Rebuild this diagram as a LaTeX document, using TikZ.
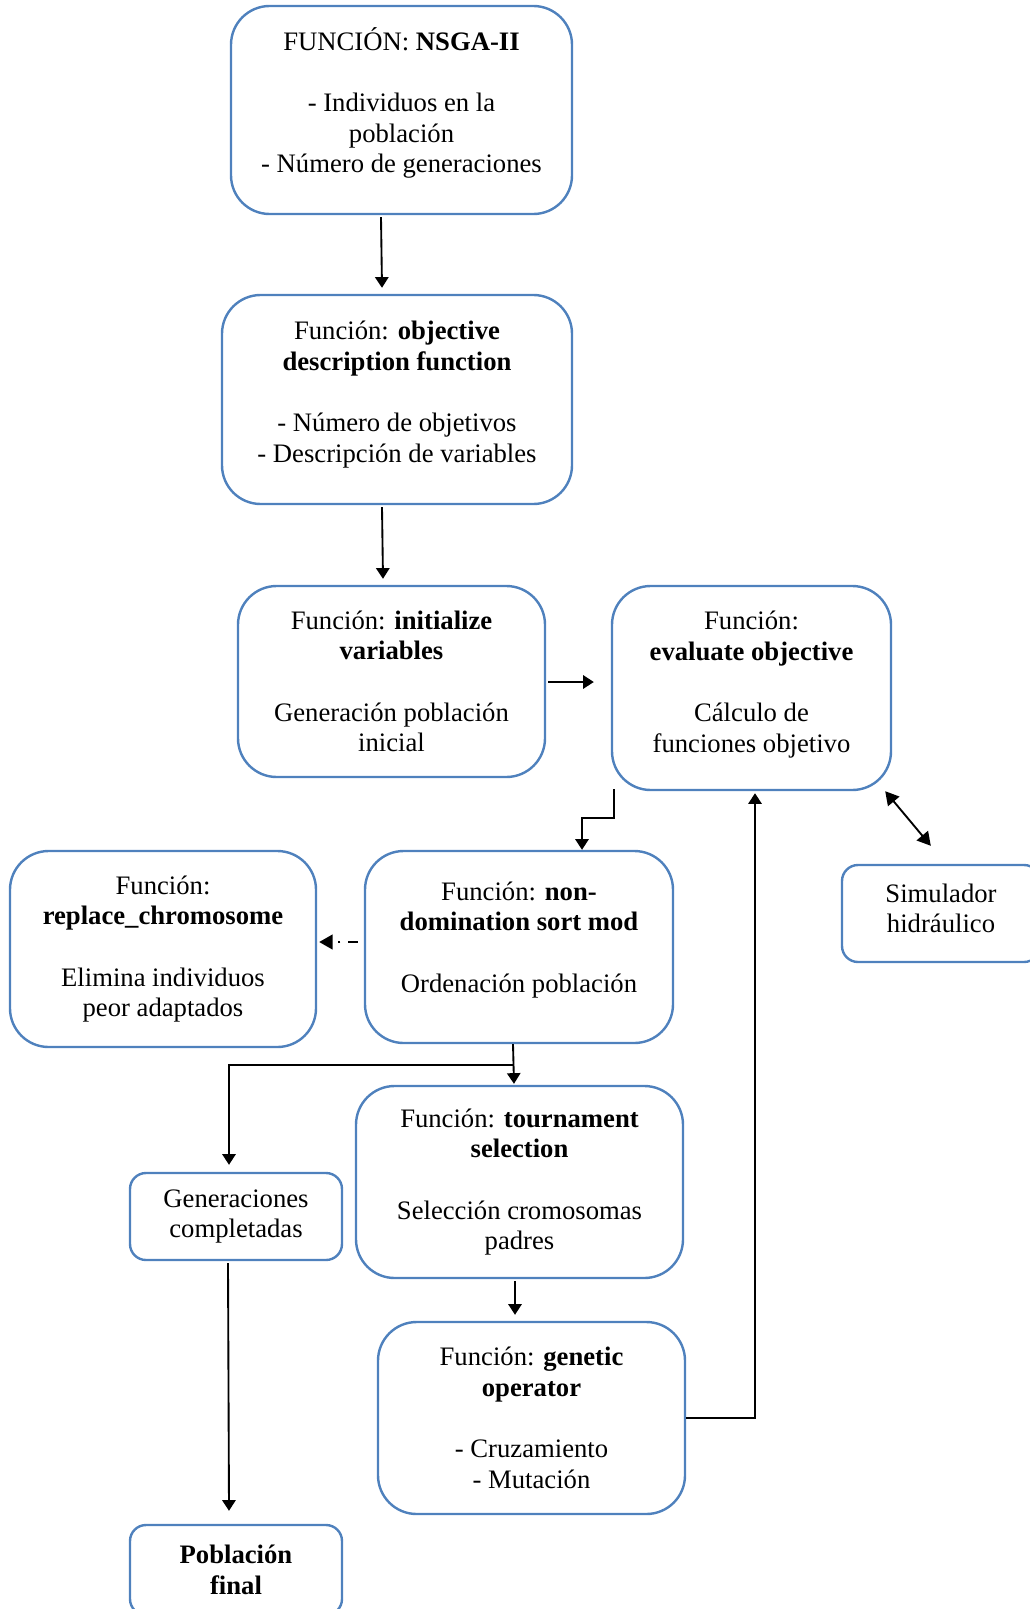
\documentclass[tikz,border=0pt]{standalone}
\usepackage{fontspec}
\setmainfont{Liberation Serif}
\usetikzlibrary{arrows.meta}
\definecolor{boxblue}{RGB}{79,129,189}
\tikzset{
  box/.style={draw=boxblue, line width=1.8pt, rounded corners=29pt, align=center,
    font=\fontsize{20}{23}\selectfont, inner sep=0pt},
  smallbox/.style={box, rounded corners=12pt},
  arr/.style={line width=1.4pt, -{Triangle[length=8pt,width=10pt]}},
  dblarr/.style={line width=1.4pt, {Triangle[length=10pt,width=11pt]}-{Triangle[length=10pt,width=11pt]}},
  dasharr/.style={line width=1.4pt, dash pattern=on 7pt off 6pt on 1.5pt off 6pt, -{Triangle[length=10pt,width=11pt]}}
}
\begin{document}
\begin{tikzpicture}[x=0.75pt, y=-0.75pt]
\useasboundingbox (0,0) rectangle (1029,1609);

\node[box, text depth=15pt, minimum width={341*0.75pt}, minimum height={208*0.75pt}] (b1) at (401.5,110)
  {FUNCIÓN: \textbf{NSGA-II}\\[23pt]- Individuos en la\\población\\- Número de generaciones};
\node[box, text depth=12pt, minimum width={350*0.75pt}, minimum height={209*0.75pt}] (b2) at (397,399.5)
  {Función: \textbf{objective}\\\textbf{description function}\\[23pt]- Número de objetivos\\- Descripción de variables};
\node[box, minimum width={307*0.75pt}, minimum height={191*0.75pt}] (b3) at (391.5,681.5)
  {Función: \textbf{initialize}\\\textbf{variables}\\[23pt]Generación población\\inicial};
\node[box, text depth=9pt, minimum width={279*0.75pt}, minimum height={204*0.75pt}] (b4) at (751.5,688)
  {Función:\\\textbf{evaluate objective}\\[23pt]Cálculo de\\funciones objetivo};
\node[smallbox, text depth=8pt, minimum width={198*0.75pt}, minimum height={97*0.75pt}] (b5) at (941,913.5)
  {Simulador\\hidráulico};
\node[box, text depth=15pt, minimum width={308*0.75pt}, minimum height={192*0.75pt}] (b6) at (519,947)
  {Función: \textbf{non-}\\\textbf{domination sort mod}\\[23pt]Ordenación población};
\node[box, minimum width={306*0.75pt}, minimum height={196*0.75pt}] (b7) at (163,949)
  {Función:\\\textbf{replace\_chromosome}\\[23pt]Elimina individuos\\peor adaptados};
\node[smallbox, minimum width={212*0.75pt}, minimum height={87*0.75pt}] (b8) at (236,1216.5)
  {Generaciones\\completadas};
\node[box, minimum width={327*0.75pt}, minimum height={192*0.75pt}] (b9) at (519.5,1182)
  {Función: \textbf{tournament}\\\textbf{selection}\\[23pt]Selección cromosomas\\padres};
\node[box, minimum width={307*0.75pt}, minimum height={192*0.75pt}] (b10) at (531.5,1418)
  {Función: \textbf{genetic}\\\textbf{operator}\\[23pt]- Cruzamiento\\- Mutación};
\node[smallbox, minimum width={212*0.75pt}, minimum height={90*0.75pt}] (b11) at (236,1570)
  {\textbf{Población}\\\textbf{final}};

\draw[arr] ([shift={(-20.5,2)}]b1.south) -- ([shift={(-15,-6)}]b2.north);
\draw[arr] ([shift={(-15,2)}]b2.south) -- ([shift={(-8.5,-6)}]b3.north);
\draw[arr] ([shift={(2,0.5)}]b3.east) -- ([shift={(-17,-6)}]b4.west);
\draw[arr] ([shift={(3,-2)}]b4.south west) -- ++(0,29) -| ([shift={(63,0)}]b6.north);
\draw[dasharr] ([shift={(-6,-5)}]b6.west) -- ([shift={(2,-7)}]b7.east);
\draw[arr] ([shift={(-6,0)}]b6.south) -- ([shift={(-5.5,-1)}]b9.north);
\draw[arr] ([shift={(-6,21)}]b6.south) -| ([shift={(-7,-7)}]b8.north);
\draw[arr] ([shift={(-8,2)}]b8.south) -- ([shift={(-7,-13)}]b11.north);
\draw[arr] ([shift={(-4.5,2)}]b9.south) -- ([shift={(-16.5,-6)}]b10.north);
\draw[arr] (b10.east) -| ([shift={(3.5,2)}]b4.south);
\draw[dblarr] ([shift={(-7,0)}]b4.south east) -- ([shift={(90,-18)}]b5.north west);
\end{tikzpicture}
\end{document}
